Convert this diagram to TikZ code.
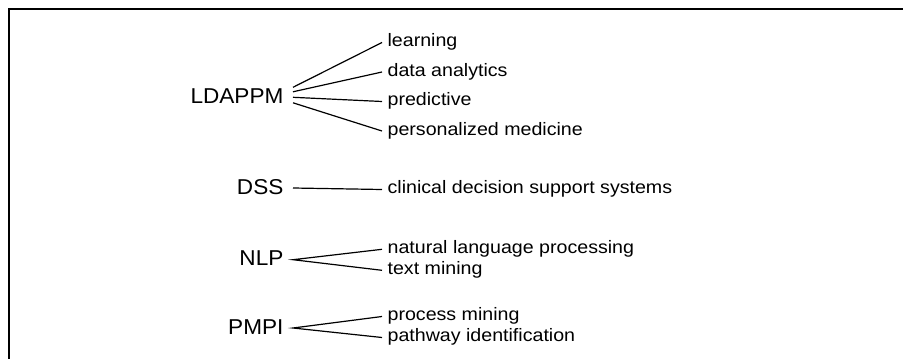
\documentclass[tikz,border=0pt]{standalone}
\usepackage{fontspec}
\setmainfont{Liberation Sans}
\newfontfamily\bigfont{Liberation Sans}[FakeStretch=1.05]
\newfontfamily\smallfont{Liberation Sans}[FakeStretch=1.09]
\tikzset{
  topic/.style={anchor=base east, inner xsep=9pt, inner ysep=0pt, text height=15pt, text depth=3pt, font=\bigfont\fontsize{21.5}{24}\selectfont},
  term/.style={anchor=base west, inner xsep=5pt, inner ysep=0pt, text height=12pt, text depth=4pt, font=\smallfont\fontsize{18}{20}\selectfont},
}
\begin{document}
\begin{tikzpicture}[x=1pt, y=-1pt, line width=1.2pt]
\useasboundingbox (0, 0) rectangle (903, 359);
\draw[line width=1.4pt] (9, 359) -- (9, 9) -- (903, 9);
%Text
\node (ldappm) at (293, 103.3) [topic] {LDAPPM};
\node (dss) at (293, 194) [topic] {DSS};
\node (nlp) at (293, 265.7) [topic] {NLP};
\node (pmpi) at (293, 334) [topic] {PMPI};
\node (learn) at (382, 46.5) [term] {learning};
\node (data) at (382, 76) [term] {data analytics};
\node (pred) at (382, 105.5) [term] {predictive};
\node (pers) at (382, 135) [term] {personalized medicine};
\node (cdss) at (382, 193.5) [term] {clinical decision support systems};
\node (natl) at (382, 253.3) [term] {natural language processing};
\node (text) at (382, 274.3) [term] {text mining};
\node (proc) at (382, 320.5) [term] {process mining};
\node (path) at (382, 341.5) [term] {pathway identification};
%Lines
\draw ([yshift=10pt]ldappm.east) -- (learn.west);
\draw ([yshift=5.5pt]ldappm.east) -- (data.west);
\draw (ldappm.east) -- (pred.west);
\draw ([yshift=-5.5pt]ldappm.east) -- (pers.west);
\draw (dss.east) -- (cdss.west);
\draw (natl.west) -- (nlp.east) -- (text.west);
\draw (proc.west) -- (pmpi.east) -- (path.west);
\end{tikzpicture}
\end{document}
